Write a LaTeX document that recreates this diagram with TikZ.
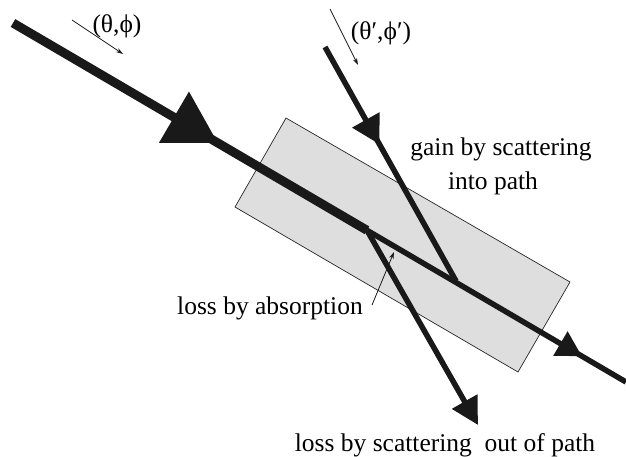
\documentclass[tikz,border=0pt]{standalone}
\usepackage{fontspec}
\newfontfamily\lblserif{Liberation Serif}
\usetikzlibrary{arrows.meta,decorations.markings}
\begin{document}
\begin{tikzpicture}[x=1pt,y=-1pt,
  lbl/.style={font=\fontsize{25.5}{34}\selectfont\lblserif, inner sep=0pt},
  pointer/.style={line width=0.8pt, black!90, -{Stealth[length=7pt,width=4.5pt]}},
  beam/.style={line width=#1, draw=black!90, line cap=butt},
  midtip/.style n args={3}{postaction={decorate}, decoration={markings,
     mark=at position #1 with {\arrow{Triangle[length=#2,width=#3]}}}},
 ]
\useasboundingbox (0,0) rectangle (626,456);
% medium (slab)
\coordinate (b1) at (286,118);
\coordinate (b2) at (570,282);
\coordinate (b3) at (518,372);
\coordinate (b4) at (235,207);
\draw[fill=black!13, line width=0.7pt, draw=black!85] (b1) -- (b2) -- (b3) -- (b4) -- cycle;
% beam points
\coordinate (s) at (13,23);
\coordinate (k) at (367,230.3);
\coordinate (e) at (626,382);
\coordinate (a) at (325,47);
\coordinate (j) at (456,281);
\coordinate (o) at (478,425);
% main beam
\draw[beam=9pt, midtip={0.579}{51pt}{57pt}] (s) -- (k);
\draw[beam=5.5pt, midtip={0.83}{25pt}{27pt}] (k) -- (e);
% scattered into path
\draw[beam=5.5pt, midtip={0.416}{28pt}{30pt}] (a) -- (j);
% scattered out of path
\draw[beam=5.5pt, -{Triangle[length=27pt,width=28pt]}] (k) -- (o);
% direction pointers
\coordinate (p1s) at (72,20);  \coordinate (p1e) at (123,54);
\coordinate (p2s) at (330,9);  \coordinate (p2e) at (358,65);
\coordinate (p3s) at (372,305); \coordinate (p3e) at (394,252);
\draw[pointer] (p1s) -- (p1e);
\draw[pointer] (p2s) -- (p2e);
\draw[pointer] (p3s) -- (p3e);
% labels
\node[lbl] (tp) at (117,26) {(θ,ϕ)};
\node[lbl] (tpp) at (381,33) {(θ′,ϕ′)};
\node[lbl, align=center] (gain) at (501,166) {gain by scattering\\\hspace*{-16pt}into path};
\node[lbl] (abs) at (270,308) {loss by absorption};
\node[lbl] (out) at (445,445) {loss by scattering\ \ out of path};
\end{tikzpicture}
\end{document}
